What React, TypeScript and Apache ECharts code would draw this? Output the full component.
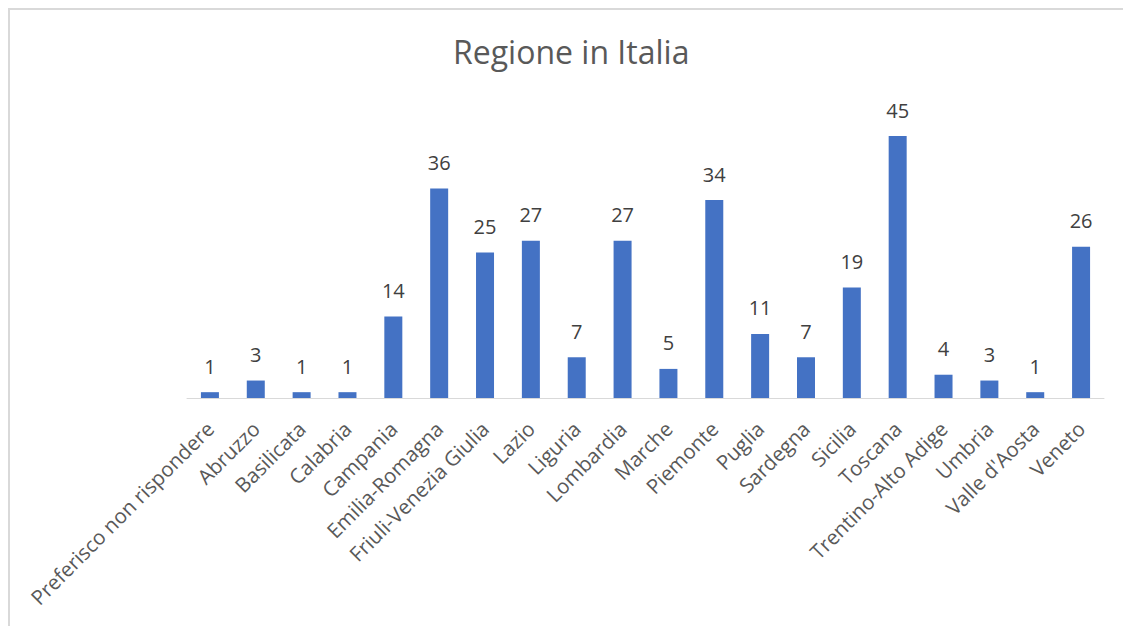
import React, { useEffect, useRef } from "react";
import * as echarts from "echarts";

const categories = [
  "Preferisco non rispondere",
  "Abruzzo",
  "Basilicata",
  "Calabria",
  "Campania",
  "Emilia-Romagna",
  "Friuli-Venezia Giulia",
  "Lazio",
  "Liguria",
  "Lombardia",
  "Marche",
  "Piemonte",
  "Puglia",
  "Sardegna",
  "Sicilia",
  "Toscana",
  "Trentino-Alto Adige",
  "Umbria",
  "Valle d'Aosta",
  "Veneto",
];
const values = [1, 3, 1, 1, 14, 36, 25, 27, 7, 27, 5, 34, 11, 7, 19, 45, 4, 3, 1, 26];
const titleText = "Regione in Italia";

const FONT = "'Open Sans', sans-serif";

export default function App() {
  const ref = useRef<HTMLDivElement>(null);
  useEffect(() => {
    if (!ref.current) return;
    const chart = echarts.init(ref.current, null, { renderer: "svg" });
    chart.setOption({
      animation: false,
      title: {
        text: titleText,
        left: 438,
        top: 20,
        textStyle: { fontFamily: FONT, fontSize: 32, fontWeight: "normal", color: "#595959" },
      },
      grid: { left: 177, width: 917, top: 97, height: 291, containLabel: false },
      xAxis: {
        type: "category",
        data: categories,
        axisLine: { lineStyle: { color: "#d9d9d9", width: 1 } },
        axisTick: { show: false },
        axisLabel: {
          rotate: 45,
          interval: 0,
          margin: 27,
          fontFamily: FONT,
          fontSize: 20.5,
          color: "#595959",
        },
      },
      yAxis: {
        type: "value",
        min: 0,
        max: 50,
        show: false,
        splitLine: { show: false },
      },
      series: [
        {
          type: "bar",
          data: values,
          barWidth: 18,
          itemStyle: { color: "#4472C4" },
          label: {
            show: true,
            position: "top",
            distance: 16,
            fontFamily: FONT,
            fontSize: 20,
            color: "#404040",
          },
        },
      ],
    });
    return () => chart.dispose();
  }, []);
  return (
    <div
      style={{
        position: "fixed",
        left: 8,
        top: 8,
        width: 1113,
        height: 616,
        borderLeft: "2px solid #d9d9d9",
        borderTop: "2px solid #d9d9d9",
        background: "#fff",
      }}
    >
      <div ref={ref} style={{ width: 1113, height: 616 }} />
    </div>
  );
}
